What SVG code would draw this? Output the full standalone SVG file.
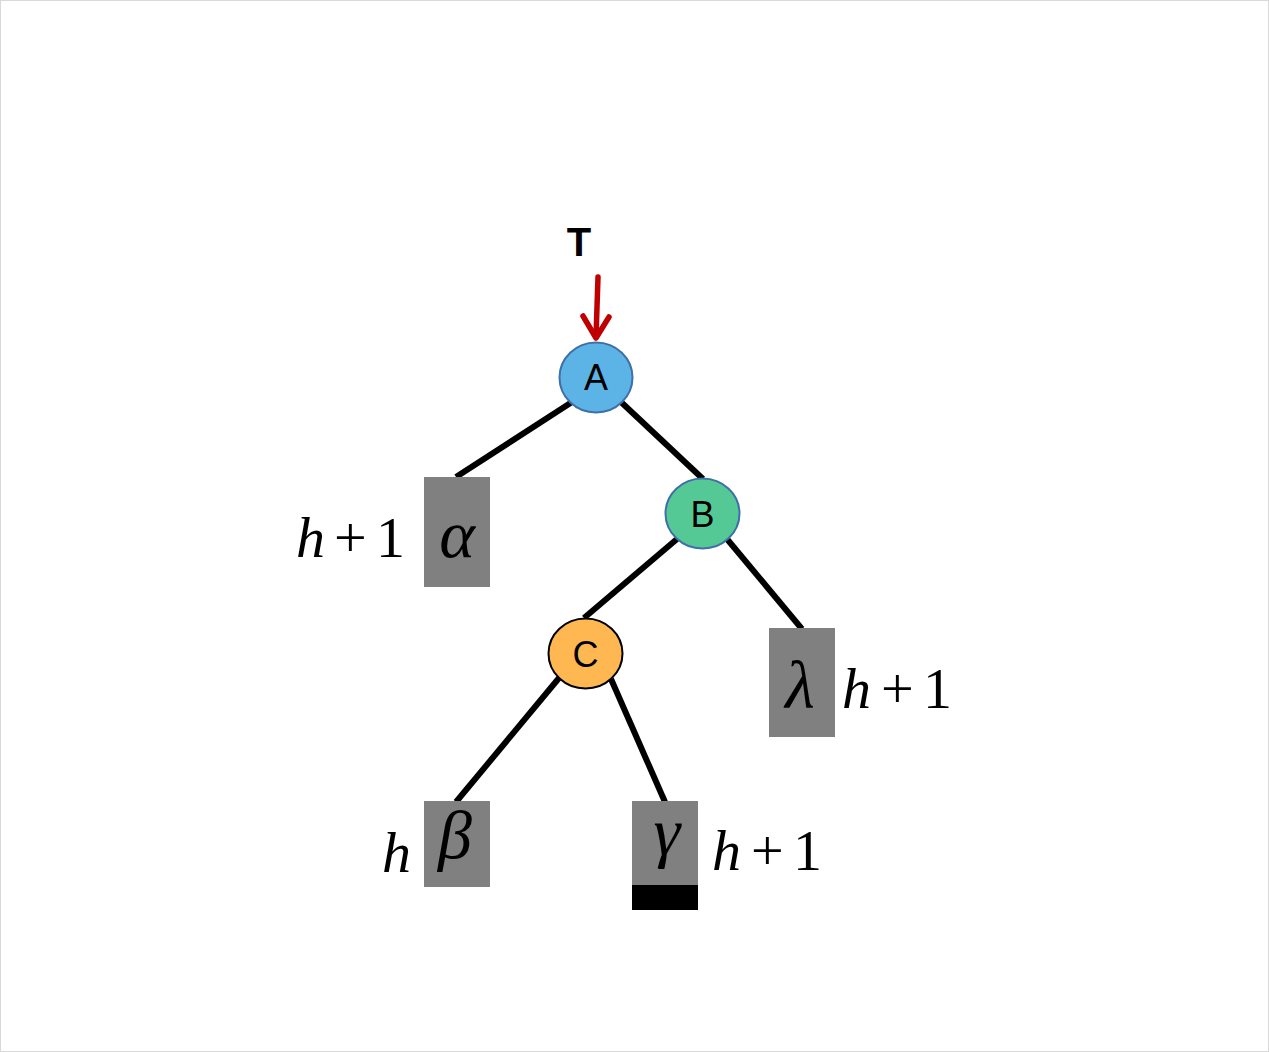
<svg xmlns="http://www.w3.org/2000/svg" width="1269" height="1052" viewBox="0 0 1269 1052">
<style>
.edge{stroke:#000;stroke-width:6;fill:none}
.box{fill:#808080}
.lbl{font-family:"Liberation Sans",Arial,sans-serif;font-size:36px;text-anchor:middle;fill:#000}
.m{font-family:"Liberation Serif","Times New Roman",serif;font-size:58px;fill:#000}
.g{font-family:"Liberation Serif","Times New Roman",serif;font-size:68px;font-style:italic;fill:#000;text-anchor:middle}
.i{font-style:italic}
</style>
<rect x="0.5" y="0.5" width="1268" height="1051" fill="#fff" stroke="#d9d9d9"/>
<g id="connectors">
<line class="edge" x1="572" y1="402" x2="456" y2="477"/>
<line class="edge" x1="621" y1="402" x2="703" y2="479"/>
<line class="edge" x1="677" y1="539" x2="584" y2="618"/>
<line class="edge" x1="727" y1="539" x2="802" y2="629"/>
<line class="edge" x1="559" y1="678" x2="456" y2="802"/>
<line class="edge" x1="611" y1="679" x2="665" y2="802"/>
<g stroke="#C00000" stroke-width="5.5" fill="none" stroke-linecap="round" stroke-linejoin="round">
<line x1="598" y1="277" x2="596" y2="337"/>
<polyline points="583,316 596,338 609,317"/>
</g>
</g>
<g id="T"><text x="579" y="256" font-family="Liberation Sans,Arial,sans-serif" font-weight="bold" font-size="40" text-anchor="middle">T</text></g>
<g id="nodeA"><ellipse cx="596" cy="377.5" rx="36.5" ry="35" fill="#5BB3E6" stroke="#3F6FA8" stroke-width="2"/><text class="lbl" x="596" y="390">A</text></g>
<g id="nodeB"><ellipse cx="702.5" cy="513.5" rx="37" ry="35" fill="#55C995" stroke="#3F6FA8" stroke-width="2"/><text class="lbl" x="702.5" y="527">B</text></g>
<g id="nodeC"><ellipse cx="585.5" cy="653.5" rx="37" ry="35" fill="#FFB851" stroke="#000" stroke-width="2"/><text class="lbl" x="585.5" y="667">C</text></g>
<g id="alpha"><rect class="box" x="424" y="477" width="66" height="110"/><text class="g" x="457" y="557">α</text>
<text class="m" y="557"><tspan class="i" x="296">h</tspan><tspan x="334">+</tspan><tspan x="376">1</tspan></text></g>
<g id="lambda"><rect class="box" x="769" y="628" width="66" height="109"/><text class="g" x="800" y="708">λ</text>
<text class="m" y="708"><tspan class="i" x="842">h</tspan><tspan x="881">+</tspan><tspan x="923">1</tspan></text></g>
<g id="beta"><rect class="box" x="424" y="801" width="66" height="86"/><text class="g" x="455" y="858">β</text>
<text class="m i" x="382" y="872">h</text></g>
<g id="gamma"><rect class="box" x="632" y="801" width="66" height="84"/><rect x="632" y="885" width="66" height="25" fill="#000"/><text class="g" x="667" y="855">γ</text>
<text class="m" y="870"><tspan class="i" x="712">h</tspan><tspan x="751">+</tspan><tspan x="793">1</tspan></text></g>
</svg>
